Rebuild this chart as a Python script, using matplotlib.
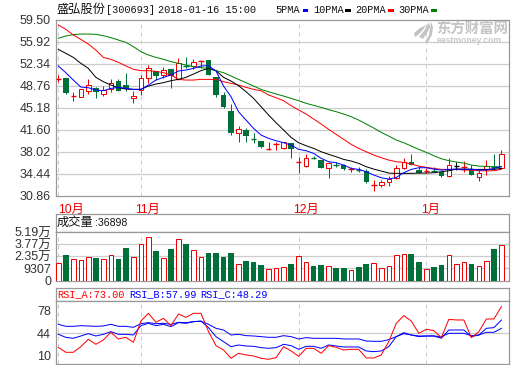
import numpy as np
import matplotlib
matplotlib.use('Agg')
import matplotlib.pyplot as plt
from matplotlib.patches import Polygon, Rectangle

W, H = 520, 365

# candles, index 0 is the first day of the window
opens = [49.9,49.98,47.05,46.98,47.96,48.34,47.36,48.18,49.49,48.83,46.82,48.07,49.98,51.17,50.57,51.45,49.81,52.04,51.99,52.7,52.91,50.14,47.26,44.64,41.11,41.54,40.07,39.69,
         38.38,39.12,38.55,39.37,36.2,35.72,37.08,36.64,35.39,35.93,35.77,35.08,35.17,34.9,32.45,32.5,33.05,33.65,35.39,36.26,35.01,34.75,34.9,34.63,34.08,35.72,35.5,35.17,33.92,35.17,35.55,35.28]
closes = [50.0,47.64,47.12,48.18,48.94,47.8,48.07,49.27,47.96,48.18,47.15,50.08,51.72,50.36,51.34,50.36,52.43,51.88,52.7,52.9,50.52,47.26,45.35,41.11,41.65,40.62,39.96,38.76,
          38.5,39.28,39.53,38.44,36.32,36.92,36.86,35.39,36.1,35.83,35.17,35.18,34.96,33.11,32.67,33.0,33.6,35.28,36.26,35.83,34.47,34.85,34.8,34.03,35.82,35.72,35.62,34.19,34.46,35.72,35.44,37.57]
highs = [50.52,49.98,47.8,48.18,49.81,48.5,48.72,49.81,49.81,50.79,47.96,50.52,52.15,51.17,51.88,51.45,53.24,53.51,53.08,52.91,52.91,50.14,47.7,45.79,42.19,41.81,41.0,39.8,
         39.64,39.64,39.6,39.37,37.19,37.57,37.3,36.64,36.37,36.26,35.93,35.56,35.56,35.12,33.38,33.38,34.03,35.83,36.92,37.62,35.7,35.28,35.56,34.74,37.02,36.37,36.48,35.82,35.17,36.64,37.62,38.27]
lows = [49.43,47.5,46.33,46.98,47.42,46.7,47.09,47.8,47.96,47.96,46.0,47.25,49.16,49.7,49.98,48.45,49.7,51.6,51.45,51.6,50.52,46.98,45.2,40.72,39.64,39.64,39.36,38.6,
        38.28,38.28,38.5,37.03,34.58,35.56,36.75,35.39,33.65,35.56,35.01,34.74,34.7,32.83,31.64,32.29,32.4,33.6,35.12,35.83,34.47,34.58,34.7,33.92,33.81,35.01,34.74,34.19,33.27,34.19,35.17,35.17]

ma5 = [52.0,50.9,49.7,48.56,48.45,48.07,47.96,48.34,48.5,48.34,48.18,48.18,48.89,49.7,50.14,50.52,51.17,51.34,51.6,52.0,52.04,51.17,48.72,46.98,44.53,43.17,41.81,40.72,
       40.18,39.8,39.47,39.09,38.39,38.17,37.73,36.92,36.37,36.21,35.83,35.28,35.12,34.74,34.2,33.76,33.54,33.81,34.58,35.12,35.39,35.39,35.17,35.01,35.12,35.17,35.12,35.17,35.01,35.01,35.28,35.56]
ma10 = [54.71,54.06,53.4,52.43,51.61,50.14,49.43,48.89,48.45,48.23,48.18,48.18,48.72,49.05,49.27,49.6,49.81,50.14,50.68,51.23,51.61,51.23,50.14,49.54,48.78,47.8,46.71,45.35,
        43.99,42.74,41.54,40.34,39.47,38.98,38.55,38.0,37.57,37.19,36.75,36.48,36.1,35.56,35.17,34.85,34.52,34.47,34.47,34.47,34.52,34.52,34.58,34.74,34.9,35.17,35.17,35.12,35.12,35.12,35.12,35.28]
ma20 = [58.68,57.98,57.05,56.34,55.58,54.6,53.4,53.08,52.59,52.0,51.45,51.23,51.23,51.12,50.9,50.52,49.81,49.7,49.7,49.81,49.81,49.81,49.43,49.16,48.89,48.51,48.18,47.96,
        47.26,46.82,46.33,45.51,44.81,44.15,43.34,42.52,41.65,40.83,40.02,39.2,38.55,38.0,37.46,37.03,36.64,36.37,36.26,35.99,35.66,35.45,35.28,35.12,35.12,35.12,35.01,35.01,34.9,34.9,34.9,35.12]
ma30 = [56.51,56.89,57.11,57.21,57.21,57.16,56.94,56.62,56.23,55.85,55.15,54.33,53.79,53.4,53.08,52.7,52.43,52.15,51.88,51.72,51.61,51.23,50.9,50.36,49.81,49.27,48.72,48.18,
        47.8,47.42,47.09,46.71,46.33,45.9,45.57,45.24,44.86,44.54,44.15,43.72,43.17,42.52,41.87,41.16,40.56,39.91,39.47,38.93,38.39,37.9,37.35,36.86,36.54,36.32,36.15,35.83,35.66,35.61,35.56,35.56]

volume = [16177,25705,20941,19750,23323,22132,20941,25705,20147,33248,23323,37615,45952,29675,22132,32057,43570,38012,30866,23323,27293,27293,22529,27293,14986,17765,16574,13001,
          9031,10222,11413,14192,24514,17368,11810,13001,12604,9428,9428,7840,10619,14192,16177,10222,12604,25705,26896,26102,17368,9031,10619,13001,25705,14986,17368,14192,12604,18559,32057,36898]

rsi_a = [23,15.5,15.5,24,35,27.5,34,45.5,35.5,38,30.5,62.5,74,60.5,66.5,55.5,73,68,74,74,46.5,25.5,19,6.5,14,11.5,10,6.5,
         5,7.5,24,17.5,9.5,21.5,21.5,14,25.5,23,19,20,20,7,7,11.5,31.5,59,70.5,62.5,44,50,48,37.5,65,64,64,37.5,46.5,65.5,65.5,84]
rsi_b = [42.5,38,36.5,40,43.5,40,42.5,46.5,42.5,42.5,41.5,55.5,59,55.5,57.5,54,60,59,61.5,62.5,52.5,39,31.5,24,26.5,25,24.5,22.5,
         21.5,22.5,27.5,25.5,20,24.5,24.5,21.5,26.5,25,23.5,23.5,23.5,17.5,16.5,17.5,24,39,45,41.5,39,40,40,36.5,49,49,49,39,41.5,51.5,52.5,64]
rsi_c = [57.5,54.5,54.5,55.5,55,54.5,55,57.5,54.5,54.5,53,58.5,60,58.5,59,57.5,60.5,60,61.5,62,57.5,51.5,49,41.5,42.5,40.5,40,39,
         38,38,40.5,39,35.5,37.5,36.5,36.5,36.5,36.5,35.5,35.5,35.5,32.5,32,32,34.5,39,43.5,41.5,40,40,40,39,44,44,44,40.5,41.5,45.5,45.5,51.5]

month_idx = [0, 11, 32, 49]
month_labels = ['10月', '11月', '12月', '1月']
month_offset = [13, 7, 7, 4]
price_ticks = [59.50, 55.92, 52.34, 48.76, 45.18, 41.60, 38.02, 34.44, 30.86]
vol_ticks = [-4893, 9307, 23507, 37707, 51907]
vol_labels = ['0', '9307', '2.35万', '3.77万', '5.19万']
rsi_ticks = [10, 44, 78]

RED = '#f00000'
GREEN = '#00703a'
GRID = '#cccccc'
EDGE = '#999999'
LABEL = '#333333'
LW = 0.72
MONO = ['Liberation Mono', 'Noto Sans CJK SC']
SANS = ['Liberation Sans', 'Noto Sans CJK SC']

x = np.arange(len(opens))
xlim = (-0.306, 59.97)


def panel(left, top, right, bottom):
    ax = fig.add_axes([left / W, 1 - bottom / H, (right - left) / W, (bottom - top) / H])
    ax.set_xlim(*xlim)
    ax.set_xticks([])
    for s in ax.spines.values():
        s.set_color(EDGE)
        s.set_linewidth(0.9)
    ax.tick_params(axis='y', length=0, pad=3.5, labelcolor=LABEL)
    return ax


def months(ax):
    for m in month_idx:
        ax.axvline(m, color=GRID, lw=LW, ls=(0, (4, 4)), zorder=1)


def grid(ax, levels):
    for v in levels:
        ax.axhline(v, color=GRID, lw=0.9, zorder=1)


def pixtext(px, py, s, **kw):
    kw.setdefault('family', MONO)
    kw.setdefault('fontsize', 7.4)
    kw.setdefault('va', 'center')
    fig.text(px / W, 1 - py / H, s, **kw)


fig = plt.figure(figsize=(W / 100, H / 100), dpi=100, facecolor='white')

# price panel
ax = panel(56, 20, 508.7, 195.5)
ax.set_ylim(30.86, 59.50)
grid(ax, price_ticks[1:-1])
months(ax)
ax.set_yticks(price_ticks)
ax.set_yticklabels(['%.2f' % p for p in price_ticks], family=SANS, fontsize=9)

for i in x:
    o, c = opens[i], closes[i]
    if o == c:
        col = 'black'
    elif c > o:
        col = RED
    else:
        col = GREEN
    ax.vlines(i, lows[i], highs[i], color=col, lw=LW, zorder=2)
    body = abs(c - o)
    if body <= 0.3:
        ax.hlines((o + c) / 2, i - 0.37, i + 0.37, color=col, lw=1.0, zorder=3)
    elif c > o:
        ax.bar(i, body, 0.6, bottom=o, facecolor='white', edgecolor=col, lw=LW, zorder=3)
    else:
        ax.bar(i, body, 0.72, bottom=c, facecolor=col, lw=0, zorder=3)

ax.plot(x, ma30, color='#008000', lw=LW, zorder=4)
ax.plot(x, ma20, color='#ff0000', lw=LW, zorder=5)
ax.plot(x, ma10, color='#000000', lw=LW, zorder=6)
ax.plot(x, ma5, color='#0000ff', lw=LW, zorder=7)

for m, lab, off in zip(month_idx, month_labels, month_offset):
    ax.annotate(lab, xy=(m, 0), xycoords=ax.get_xaxis_transform(), xytext=(off * 0.72, -10.5),
                textcoords='offset points', ha='center', va='center', color='#ee0000',
                family=SANS, fontsize=8.8, annotation_clip=False)

# volume panel
head = panel(56, 214.3, 508.7, 232.3)
head.set_yticks([])
vol = panel(56, 232.3, 508.7, 280.5)
vol.set_ylim(vol_ticks[0], vol_ticks[-1])
grid(vol, vol_ticks[1:-1])
months(vol)
vol.set_yticks(vol_ticks)
vol.set_yticklabels(vol_labels, family=SANS, fontsize=9)
for i in x:
    h = volume[i] - vol_ticks[0]
    if closes[i] >= opens[i]:
        vol.bar(i, h, 0.6, bottom=vol_ticks[0], facecolor='white', edgecolor=RED, lw=LW, zorder=3)
    else:
        vol.bar(i, h, 0.75, bottom=vol_ticks[0], facecolor=GREEN, lw=0, zorder=3)

# rsi panel
head2 = panel(56, 287.7, 508.7, 301)
head2.set_yticks([])
rsi = panel(56, 301, 508.7, 364.3)
rsi.set_ylim(-2.5, 92.5)
grid(rsi, [44])
months(rsi)
rsi.set_yticks(rsi_ticks)
rsi.set_yticklabels([str(t) for t in rsi_ticks], family=SANS, fontsize=9)
rsi.plot(x, rsi_c, color='#0000ff', lw=LW, zorder=3)
rsi.plot(x, rsi_b, color='#0000ff', lw=LW, zorder=4)
rsi.plot(x, rsi_a, color='#ff0000', lw=LW, zorder=5)

# title row
pixtext(56.5, 10, '盛弘股份', family=SANS, fontsize=8.8, color='#111111')
pixtext(106, 10, '[300693]', color='#111111')
pixtext(158, 10, '2018-01-16 15:00', color='#111111')
legend = [('5PMA', 275.7, 302.7, '#0000ff'), ('10PMA', 313.3, 345, '#000000'),
          ('20PMA', 355.7, 388.3, '#ff0000'), ('30PMA', 398.7, 431, '#008000')]
for name, tx, mx, col in legend:
    pixtext(tx, 10, name, color='#111111')
    fig.add_artist(Rectangle((mx / W, 1 - 11.7 / H), 5.7 / W, 3 / H, transform=fig.transFigure, color=col, lw=0))

pixtext(57, 223.3, '成交量', family=SANS, fontsize=8.8, color='#111111')
pixtext(95, 223.3, ':36898', family=SANS, fontsize=7.6, color='#111111')
pixtext(57, 294.3, 'RSI_A:73.00', color='#ff0000')
pixtext(129, 294.3, 'RSI_B:57.99', color='#0000ff')
pixtext(200.7, 294.3, 'RSI_C:48.29', color='#0000ff')

# watermark
pixtext(436.5, 30, '东方财富网', family=SANS, fontsize=10.4, fontweight='bold', color='#c4c4c4')
pixtext(437, 40.5, 'eastmoney.com', family=SANS, fontsize=6.2, fontweight='bold', color='#c8c8c8')
swoosh = [[(414, 33), (420, 28), (426, 25), (423, 30), (418, 35), (415, 37)],
          [(419, 37), (424, 31), (429, 22), (430, 27), (427, 33), (423, 39)],
          [(425, 42), (429, 35), (431, 22), (433, 27), (432, 35), (428, 42)]]
for poly in swoosh:
    fig.add_artist(Polygon([(px / W, 1 - py / H) for px, py in poly], closed=True,
                           transform=fig.transFigure, facecolor='#c4c4c4', lw=0))

fig.savefig('out.png', dpi=100)
